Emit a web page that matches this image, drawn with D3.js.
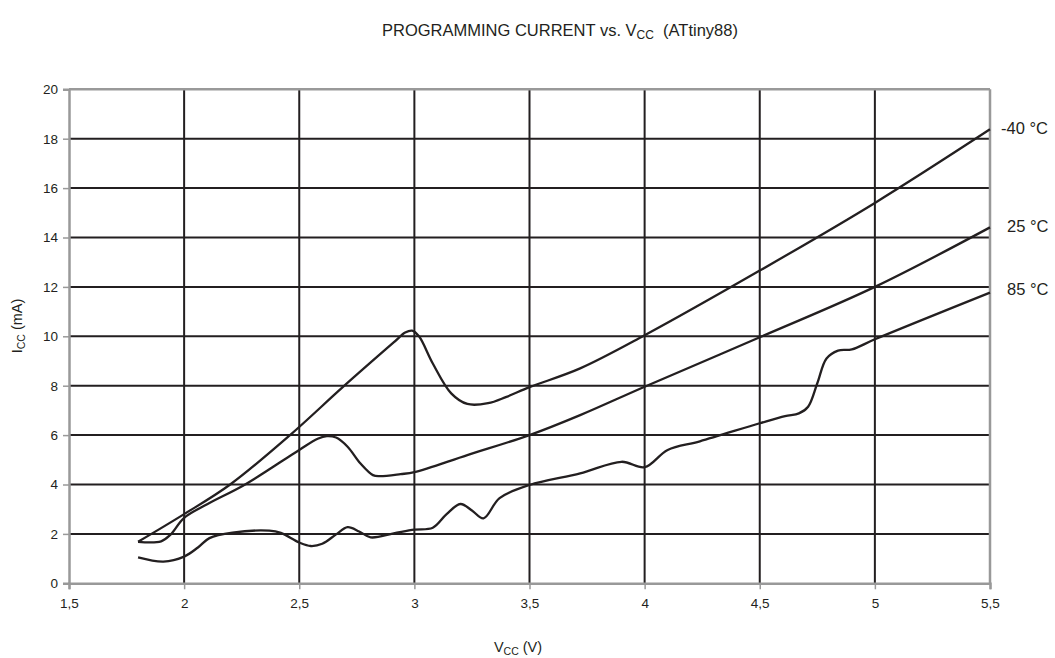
<!DOCTYPE html>
<html><head><meta charset="utf-8">
<script src="https://cdn.jsdelivr.net/npm/d3@7"></script>
<style>body{margin:0;background:#fff}svg{display:block;font-family:"Liberation Sans",Arial,sans-serif}</style>
</head><body><svg id="c" width="1055" height="658"></svg>
<script>
// Data
const xTicks = [1.5, 2, 2.5, 3, 3.5, 4, 4.5, 5, 5.5];
const yTicks = [0, 2, 4, 6, 8, 10, 12, 14, 16, 18, 20];
const seriesNames = ["-40 °C", "25 °C", "85 °C"];
const vccM40 = [1.8, 2.0, 2.2, 2.46, 2.69, 2.91, 2.96, 2.99, 3.02, 3.08, 3.16, 3.23, 3.32, 3.4, 3.5, 3.72, 4.0, 4.5, 5.0, 5.5];
const iccM40 = [1.68, 2.8, 4.0, 6.0, 7.95, 9.75, 10.15, 10.23, 10.0, 8.9, 7.69, 7.26, 7.29, 7.55, 7.94, 8.7, 10.04, 12.66, 15.4, 18.38];
const vcc25 = [1.8, 1.9, 1.94, 2.0, 2.1, 2.265, 2.5, 2.58, 2.62, 2.66, 2.71, 2.765, 2.82, 2.85, 2.94, 3.0, 3.23, 3.5, 3.72, 4.0, 4.5, 5.0, 5.5];
const icc25 = [1.68, 1.7, 1.96, 2.65, 3.2, 4.0, 5.4, 5.85, 5.96, 5.9, 5.53, 4.86, 4.38, 4.34, 4.42, 4.5, 5.19, 6.0, 6.81, 7.96, 9.96, 12.0, 14.41];
const vcc85 = [1.8, 1.91, 2.0, 2.06, 2.11, 2.21, 2.37, 2.42, 2.5, 2.55, 2.6, 2.66, 2.71, 2.76, 2.81, 2.91, 3.0, 3.08, 3.14, 3.2, 3.25, 3.3, 3.37, 3.5, 3.72, 3.9, 4.0, 4.1, 4.24, 4.5, 4.61, 4.67, 4.71, 4.75, 4.79, 4.84, 4.9, 5.0, 5.5];
const icc85 = [1.05, 0.88, 1.08, 1.45, 1.83, 2.05, 2.13, 2.04, 1.65, 1.51, 1.6, 1.98, 2.27, 2.1, 1.86, 2.02, 2.17, 2.25, 2.8, 3.21, 2.95, 2.63, 3.45, 3.98, 4.45, 4.92, 4.7, 5.4, 5.75, 6.48, 6.77, 6.88, 7.15, 8.1, 9.1, 9.42, 9.47, 9.88, 11.77];

const svg = d3.select("#c");
const L = 69, R = 990, T = 89.3, B = 583.3;
const x = d3.scaleLinear().domain([1.5, 5.5]).range([L, R]);
const y = d3.scaleLinear().domain([0, 20]).range([B, T]);
const ink = "#231f20", gray = "#999999";
const fmt = d => String(d).replace(".", ",");

// grid
svg.append("g").selectAll("line").data(yTicks.filter(d => d > 0 && d < 20)).join("line")
  .attr("x1", L).attr("x2", R).attr("y1", d => y(d)).attr("y2", d => y(d))
  .attr("stroke", ink).attr("stroke-width", 2);
svg.append("g").selectAll("line").data(xTicks.filter(d => d > 1.5 && d < 5.5)).join("line")
  .attr("y1", T).attr("y2", B).attr("x1", d => x(d)).attr("x2", d => x(d))
  .attr("stroke", ink).attr("stroke-width", 2);
// frame top/right
svg.append("line").attr("x1", L).attr("x2", R).attr("y1", T).attr("y2", T).attr("stroke", gray).attr("stroke-width", 2.5);
svg.append("line").attr("x1", R).attr("x2", R).attr("y1", T).attr("y2", B).attr("stroke", gray).attr("stroke-width", 2.5);

// axes
const yAxis = d3.axisLeft(y).tickValues(yTicks).tickSize(6).tickPadding(5).tickFormat(d => d);
const gy = svg.append("g").attr("transform", `translate(${L},0)`).call(yAxis);
const xAxis = d3.axisBottom(x).tickValues(xTicks).tickSize(6).tickPadding(9).tickFormat(fmt);
const gx = svg.append("g").attr("transform", `translate(0,${B})`).call(xAxis);
[gx, gy].forEach(g => {
  g.select(".domain").attr("stroke", gray).attr("stroke-width", 2.5);
  g.selectAll(".tick line").attr("stroke", gray).attr("stroke-width", 1.5);
  g.selectAll("text").attr("fill", "#231f20").attr("font-size", 13.5).attr("font-family", "Liberation Sans, Arial, sans-serif");
});

// lines
const line = d3.line().x(d => x(d[0])).y(d => y(d[1])).curve(d3.curveCatmullRom.alpha(0.5));
const series = [[vccM40, iccM40], [vcc25, icc25], [vcc85, icc85]];
series.forEach(([vs, is]) => {
  svg.append("path").datum(vs.map((v, i) => [v, is[i]])).attr("d", line)
    .attr("fill", "none").attr("stroke", ink).attr("stroke-width", 2.3).attr("stroke-linejoin", "round");
});

// series labels
const labY = [134, 231.5, 295];
const labX = [1001, 1007, 1007];
seriesNames.forEach((n, i) => {
  svg.append("text").attr("x", labX[i]).attr("y", labY[i]).attr("font-size", 16.5).attr("fill", ink).text(n);
});

// title
const t = svg.append("text").attr("x", 560).attr("y", 36).attr("text-anchor", "middle").attr("font-size", 16.5).attr("fill", ink);
t.append("tspan").text("PROGRAMMING CURRENT vs. V");
t.append("tspan").attr("font-size", 12).attr("dy", 3).text("CC");
t.append("tspan").attr("dy", -3).text("\u00a0\u00a0(ATtiny88)");

// x label
const xl = svg.append("text").attr("x", 518).attr("y", 652).attr("text-anchor", "middle").attr("font-size", 14.5).attr("fill", ink);
xl.append("tspan").text("V");
xl.append("tspan").attr("font-size", 10.5).attr("dy", 3).text("CC");
xl.append("tspan").attr("dy", -3).text(" (V)");

// y label
const yl = svg.append("text").attr("transform", "translate(22,326) rotate(-90)").attr("text-anchor", "middle").attr("font-size", 14.5).attr("fill", ink);
yl.append("tspan").text("I");
yl.append("tspan").attr("font-size", 10.5).attr("dy", 3).text("CC");
yl.append("tspan").attr("dy", -3).text(" (mA)");
</script></body></html>
